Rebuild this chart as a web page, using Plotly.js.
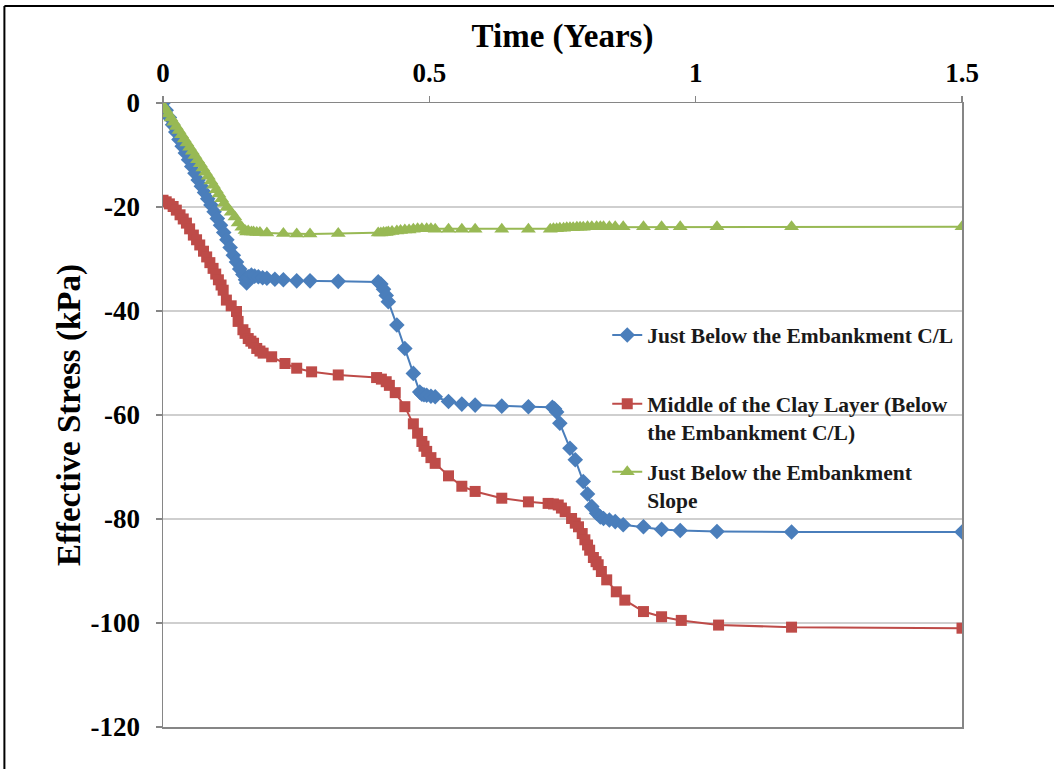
<!DOCTYPE html>
<html>
<head>
<meta charset="utf-8">
<script src="https://cdn.plot.ly/plotly-3.0.1.min.js"></script>
<style>
  html, body { margin: 0; padding: 0; background: #ffffff; }
  #chart { width: 1054px; height: 769px; }
</style>
</head>
<body>
<div id="chart"></div>
<script>
// ---- Data ----
const seriesNames = [
  "Just Below the Embankment C/L",
  "Middle of the Clay Layer (Below<br>the Embankment C/L)",
  "Just Below the Embankment<br>Slope"
];

const blueTime = [0, 0.006, 0.012, 0.018, 0.024, 0.03, 0.036, 0.042, 0.048, 0.054, 0.06, 0.066, 0.072, 0.078, 0.084, 0.09, 0.096, 0.102, 0.108, 0.114, 0.12, 0.126, 0.132, 0.138, 0.144, 0.15, 0.155, 0.157,
  0.160, 0.166, 0.172, 0.179, 0.187, 0.195, 0.21, 0.226, 0.251, 0.276, 0.329, 0.404, 0.409, 0.414, 0.419, 0.423, 0.439, 0.454, 0.470, 0.482, 0.486, 0.490, 0.495, 0.503, 0.511, 0.536, 0.561, 0.586, 0.636, 0.686, 0.731, 0.735, 0.739, 0.745, 0.764, 0.774, 0.789, 0.797, 0.805, 0.814, 0.821, 0.827, 0.838, 0.849, 0.864, 0.902, 0.936, 0.971, 1.040, 1.180, 1.5];
const blueStress = [0, -1.4, -2.8, -4.2, -5.6, -7.0, -8.3, -9.6, -10.9, -12.2, -13.5, -14.8, -16.0, -17.2, -18.4, -19.6, -20.9, -22.2, -23.5, -24.9, -26.3, -27.8, -29.3, -30.6, -31.9, -33.0, -34.0, -34.6,
  -33.4, -33.1, -33.3, -33.4, -33.6, -33.7, -33.9, -34.0, -34.2, -34.2, -34.3, -34.4, -34.8, -35.8, -37.0, -38.2, -42.7, -47.2, -52.0, -55.6, -56.0, -56.1, -56.2, -56.4, -56.5, -57.4, -57.9, -58.1, -58.3, -58.4, -58.5, -58.8, -59.4, -61.6, -66.4, -68.6, -72.8, -75.2, -77.6, -78.9, -79.6, -79.9, -80.2, -80.5, -81.1, -81.5, -82.0, -82.2, -82.4, -82.5, -82.5];

const redTime = [0, 0.006, 0.012, 0.019, 0.025, 0.032, 0.038, 0.044, 0.050, 0.057, 0.063, 0.069, 0.076, 0.082, 0.088, 0.094, 0.099, 0.104, 0.109, 0.113, 0.119, 0.128, 0.138, 0.141, 0.150, 0.154, 0.160, 0.165, 0.170, 0.176, 0.182, 0.188, 0.204, 0.229, 0.251, 0.279, 0.329, 0.401, 0.410, 0.419, 0.425, 0.436, 0.454, 0.470, 0.478, 0.486, 0.490, 0.495, 0.503, 0.511, 0.536, 0.561, 0.586, 0.636, 0.686, 0.723, 0.733, 0.742, 0.748, 0.755, 0.767, 0.774, 0.780, 0.787, 0.792, 0.797, 0.801, 0.808, 0.813, 0.817, 0.823, 0.833, 0.851, 0.867, 0.902, 0.936, 0.973, 1.043, 1.180, 1.5];
const redStress = [-18.7, -19.0, -19.4, -19.9, -20.6, -21.5, -22.3, -23.1, -24.2, -25.4, -26.3, -27.3, -28.5, -29.6, -30.7, -31.8, -32.9, -34.0, -35.0, -36.0, -37.9, -39.0, -40.1, -42.0, -43.6, -44.3, -45.3, -45.8, -46.2, -47.2, -47.7, -48.1, -48.8, -50.1, -51.0, -51.7, -52.3, -52.8, -53.1, -53.6, -54.3, -55.7, -58.4, -61.7, -63.5, -65.1, -66.0, -67.0, -68.2, -69.3, -71.7, -73.7, -74.7, -76.0, -76.7, -77.0, -77.1, -77.3, -77.9, -78.6, -79.9, -80.8, -81.5, -82.8, -84.0, -85.0, -86.0, -87.4, -88.2, -88.8, -90.1, -91.7, -94.0, -95.6, -97.8, -98.8, -99.5, -100.4, -100.8, -101.0];

const greenTime = [0, 0.005, 0.01, 0.015, 0.02, 0.025, 0.03, 0.035, 0.04, 0.045, 0.05, 0.055, 0.06, 0.065, 0.07, 0.075, 0.08, 0.085, 0.09, 0.095, 0.1, 0.105, 0.11, 0.115, 0.12, 0.128, 0.135, 0.141, 0.148, 0.154, 0.157,
  0.160, 0.166, 0.170, 0.176, 0.182, 0.195, 0.226, 0.251, 0.276, 0.329, 0.404, 0.409, 0.414, 0.419, 0.423, 0.430, 0.439, 0.446, 0.454, 0.462, 0.470, 0.478, 0.486, 0.495, 0.503, 0.511, 0.536, 0.561, 0.586, 0.636, 0.686, 0.727, 0.733, 0.739, 0.745, 0.752, 0.758, 0.764, 0.770, 0.777, 0.783, 0.789, 0.797, 0.805, 0.814, 0.821, 0.827, 0.838, 0.849, 0.864, 0.902, 0.936, 0.971, 1.040, 1.180, 1.5];
const greenStress = [-0.5, -1.3, -2.1, -2.9, -3.7, -4.5, -5.3, -6.1, -6.9, -7.7, -8.5, -9.3, -10.1, -10.9, -11.7, -12.5, -13.3, -14.1, -15.0, -15.8, -16.7, -17.5, -18.4, -19.3, -20.1, -21.0, -21.9, -23.1, -23.9, -24.5, -24.8,
  -24.6, -24.8, -24.8, -24.9, -24.9, -25.0, -25.1, -25.2, -25.2, -25.1, -25.0, -25.0, -24.9, -24.9, -24.8, -24.7, -24.6, -24.5, -24.4, -24.4, -24.3, -24.2, -24.2, -24.2, -24.2, -24.3, -24.3, -24.3, -24.3, -24.3, -24.3, -24.3, -24.2, -24.2, -24.1, -24.1, -24.0, -24.0, -24.0, -23.9, -23.9, -23.9, -23.8, -23.8, -23.8, -23.8, -23.8, -23.8, -23.8, -23.8, -23.8, -23.8, -23.8, -23.8, -23.8, -23.8];

const xTickVals = [0, 0.5, 1, 1.5];
const xTickText = ["0", "0.5", "1", "1.5"];
const yTickVals = [0, -20, -40, -60, -80, -100, -120];
const yTickText = ["0", "-20", "-40", "-60", "-80", "-100", "-120"];

// ---- Styling ----
const FONT = "Liberation Serif, Times New Roman, serif";
const axisGray = "#868686";

const traces = [
  {
    x: blueTime, y: blueStress, name: seriesNames[0], type: "scatter", mode: "lines+markers",
    line: { color: "#4A7EBB", width: 2 },
    marker: { symbol: "diamond", size: 12, color: "#4A7EBB" },
    legend: "legend"
  },
  {
    x: redTime, y: redStress, name: seriesNames[1], type: "scatter", mode: "lines+markers",
    line: { color: "#BE4B48", width: 2 },
    marker: { symbol: "square", size: 11, color: "#BE4B48" },
    legend: "legend2"
  },
  {
    x: greenTime, y: greenStress, name: seriesNames[2], type: "scatter", mode: "lines+markers",
    line: { color: "#98B954", width: 2 },
    marker: { symbol: "triangle-up", size: 13, color: "#98B954" },
    legend: "legend3"
  }
];

const legendFont = { family: FONT, size: 21.5, color: "#1a1a1a", weight: "bold" };
function legendAt(yPaper) {
  return { x: 0.556, y: yPaper, xanchor: "left", yanchor: "top", bgcolor: "rgba(0,0,0,0)",
           borderwidth: 0, font: legendFont, valign: "top" };
}

const layout = {
  width: 1054, height: 769,
  margin: { l: 163, r: 92, t: 103, b: 42, autoexpand: false },
  paper_bgcolor: "#ffffff", plot_bgcolor: "#ffffff",
  showlegend: true,
  legend: legendAt(0.661),
  legend2: legendAt(0.551),
  legend3: legendAt(0.442),
  xaxis: {
    side: "top", range: [0, 1.5], tickvals: xTickVals, ticktext: xTickText,
    showgrid: false, zeroline: false,
    showline: true, linecolor: axisGray, linewidth: 1.5, mirror: true,
    ticks: "outside", ticklen: 6, tickcolor: axisGray, tickwidth: 1.5,
    ticklabelstandoff: 3,
    tickfont: { family: FONT, size: 27, color: "#000000", weight: "bold" },
    title: { text: "Time (Years)", font: { family: FONT, size: 33, color: "#000000", weight: "bold" }, standoff: 0 },
    automargin: false
  },
  yaxis: {
    range: [-120, 0], tickvals: yTickVals, ticktext: yTickText,
    showgrid: true, gridcolor: "#cfcfcf", gridwidth: 1.2, zeroline: false,
    showline: true, linecolor: axisGray, linewidth: 1.5, mirror: true,
    ticks: "outside", ticklen: 6, tickcolor: axisGray, tickwidth: 1.5,
    ticklabelstandoff: 10,
    tickfont: { family: FONT, size: 27, color: "#000000", weight: "bold" },
    title: { text: "Effective Stress (kPa)", font: { family: FONT, size: 33, color: "#000000", weight: "bold" }, standoff: 0 },
    automargin: false
  },
  shapes: [
    { type: "line", xref: "paper", yref: "paper", x0: -0.1985, x1: -0.1985, y0: 1.1554, y1: -0.2,
      line: { color: "#000000", width: 2 } },
    { type: "line", xref: "paper", yref: "paper", x0: -0.1985, x1: 1.2, y0: 1.1554, y1: 1.1554,
      line: { color: "#000000", width: 2 } }
  ]
};

Plotly.newPlot("chart", traces, layout, { displayModeBar: false, staticPlot: true });
</script>
</body>
</html>
